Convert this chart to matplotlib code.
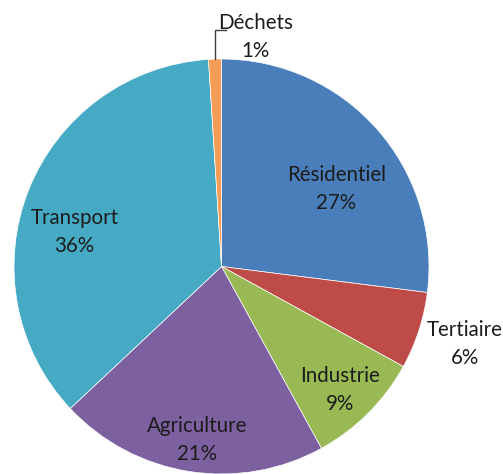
import numpy as np
import matplotlib.pyplot as plt

# emissions share by sector
sectors = ["Résidentiel", "Tertiaire", "Industrie", "Agriculture", "Transport", "Déchets"]
shares = [27, 6, 9, 21, 36, 1]
colors = ["#4a7ebb", "#be4b48", "#98b954", "#7d60a0", "#46aac5", "#f59d56"]

plt.rcParams['font.family'] = ['Lato', 'DejaVu Sans']

W, H = 503, 474
fig = plt.figure(figsize=(W / 100, H / 100), dpi=100)
ax = fig.add_axes([0, 0, 1, 1])

cx, cy, R = 221.5, H - 266.5, 207.5
wedges, _ = ax.pie(shares, colors=colors, startangle=90, counterclock=False,
                   center=(cx, cy), radius=R,
                   wedgeprops=dict(linewidth=0.5, edgecolor='white'))
ax.set_xlim(0, W)
ax.set_ylim(0, H)
ax.set_aspect('equal')
ax.axis('off')

fs = 14.8
txt = dict(ha='center', va='center', fontsize=fs, color='#1c1c1c', linespacing=1.5)

# label centres: (angle in deg, distance as fraction of radius)
label_pos = [(34.1, 0.668), (-17.7, 1.23), (-46.2, 0.827), (-98.0, 0.846), (166.7, 0.727)]
for name, val, (a, f) in zip(sectors, shares, label_pos):
    a = np.deg2rad(a)
    ax.text(cx + f * R * np.cos(a), cy + f * R * np.sin(a), f"{name}\n{val}%", **txt)

# smallest slice: leader line up to its label
w = wedges[-1]
mid = np.deg2rad((w.theta1 + w.theta2) / 2)
x0, y0 = cx + R * np.cos(mid), cy + R * np.sin(mid)
ax.plot([x0, x0, x0 + 11], [y0, y0 + 29, y0 + 29], color='#404040', lw=1)
ax.text(x0 + 41, y0 + 22, f"{sectors[-1]}\n{shares[-1]}%", **txt)

fig.savefig("out.png", dpi=100)
